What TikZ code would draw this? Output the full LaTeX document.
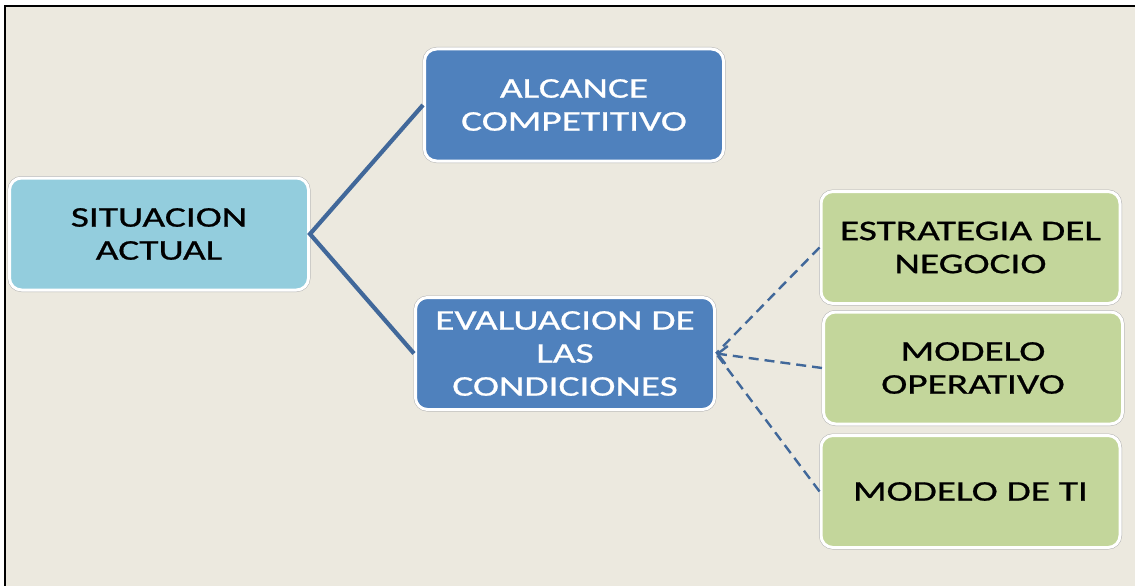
\documentclass[tikz,border=0pt]{standalone}
\usepackage{fontspec}
\setmainfont[FakeStretch=1.38, FakeBold=0.8]{Carlito}
\usepackage{tikz}
\usetikzlibrary{arrows.meta,positioning}

\definecolor{paper}{HTML}{ECE9DF}
\definecolor{skyfill}{HTML}{93CDDD}
\definecolor{bluefill}{HTML}{4F81BD}
\definecolor{greenfill}{HTML}{C3D69B}
\definecolor{linkblue}{HTML}{41689A}

\begin{document}
\begin{tikzpicture}[x=1pt, y=-1pt,
							every node/.style={minimum width=299pt, minimum height=112pt, align=center,
								font=\fontsize{28.5}{33}\selectfont},
							box/.style={rectangle, rounded corners=12pt, draw=white, line width=3pt,
								preaction={draw=black!30, line width=4pt}},
							sky/.style={box, fill=skyfill, text=black},
							blue/.style={box, fill=bluefill, text=white},
							green/.style={box, fill=greenfill, text=black},
							post/.style={draw=linkblue, line width=4.2pt},
							hint/.style={draw=linkblue, line width=2.4pt, dash pattern=on 10pt off 6pt}]

			% frame and paper
			\useasboundingbox (0,0) rectangle (1135,586);
			\fill[white] (0,0) rectangle (1135,586);
			\fill[paper] (5,6) rectangle (1135,586);
			\draw[black, line width=2pt] (5,586) -- (5,6) -- (1135,6);

			\node [sky] (sa) at (159,234) {SITUACION\\ACTUAL};

			\node [blue] (alc) at (574,105) {ALCANCE\\COMPETITIVO};

			\node [blue] (eval) at (565,353.5) {EVALUACION DE\\LAS\\CONDICIONES};

			\node [green] (estr) at (970.5,247.5) {ESTRATEGIA DEL\\NEGOCIO};

			\node [green] (oper) at (973,368) {MODELO\\OPERATIVO};

			\node [green] (ti) at (970.5,491.5) {MODELO DE TI};

			\draw[post] (alc.west) -- (sa.east) -- (eval.west);

			\draw[hint] (estr.west) -- (eval.east);
			\draw[hint, -{Straight Barb[length=9pt, width=18pt, line width=2.4pt]}] (oper.west) -- (eval.east);
			\draw[hint] (ti.west) -- (eval.east);

		\end{tikzpicture}
\end{document}
